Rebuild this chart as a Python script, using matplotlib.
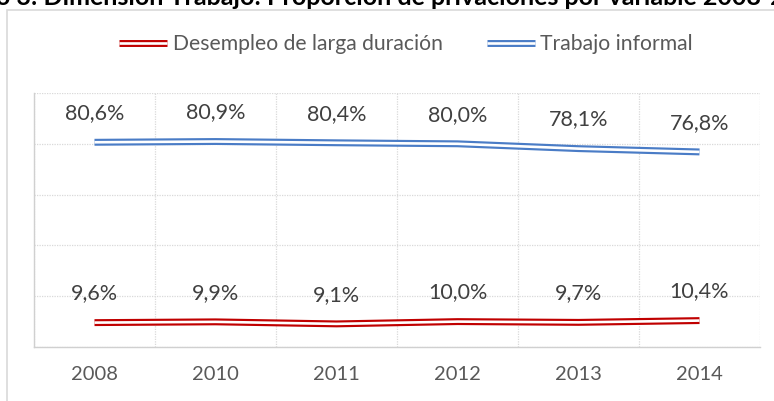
import matplotlib
matplotlib.use("Agg")
import matplotlib.pyplot as plt
from matplotlib.lines import Line2D
from matplotlib.legend_handler import HandlerTuple
from matplotlib.patches import Rectangle

years = ["2008", "2010", "2011", "2012", "2013", "2014"]
desempleo = [9.6, 9.9, 9.1, 10.0, 9.7, 10.4]
informal = [80.6, 80.9, 80.4, 80.0, 78.1, 76.8]
series_names = ["Desempleo de larga duración", "Trabajo informal"]
title = "Gráfico 3: Dimensión Trabajo: Proporción de privaciones por variable 2008-2014"

plt.rcParams['font.family'] = ['Lato', 'DejaVu Sans']
RED = '#C00000'
BLUE = '#4a7cc6'
GRAY = '#595959'

W, H = 774, 401
fig = plt.figure(figsize=(W / 100, H / 100), dpi=100)

# chart frame
fig.patches.append(Rectangle((7 / W, -0.1), 1.2, (H - 10) / H + 0.1, transform=fig.transFigure,
                             fill=False, edgecolor='#d9d9d9', lw=1.2, zorder=0))

ax = fig.add_axes([34 / W, (H - 347) / H, 726 / W, 254 / H])
x = list(range(len(years)))

for vals, col in [(desempleo, RED), (informal, BLUE)]:
    ax.plot(x, vals, color=col, lw=5.0, solid_capstyle='butt', zorder=3)
    ax.plot(x, vals, color='white', lw=1.9, solid_capstyle='butt', zorder=4)
    for xi, v in zip(x, vals):
        ax.annotate(f"{v:.1f}%".replace('.', ','), (xi, v), xytext=(0, 21),
                    textcoords='offset points', ha='center', va='center',
                    fontsize=15.5, color='#404040')

ax.set_xlim(-0.5, len(years) - 0.5)
ax.set_ylim(0, 100)
ax.set_yticks([0, 20, 40, 60, 80, 100])
ax.set_yticklabels([])
ax.tick_params(axis='y', length=0)
ax.set_xticks(x)
ax.set_xticklabels(years, fontsize=14.5, color=GRAY)
ax.set_xticks([i - 0.5 for i in range(len(years) + 1)], minor=True)
ax.tick_params(axis='x', which='both', length=0, pad=14)
ax.grid(axis='y', which='major', color='#d9d9d9', ls=(0, (1, 1)), lw=0.9)
ax.grid(axis='x', which='minor', color='#d9d9d9', ls=(0, (1, 1)), lw=0.9)
ax.grid(axis='x', which='major', visible=False)
for s in ['top', 'right']:
    ax.spines[s].set_visible(False)
for s in ['left', 'bottom']:
    ax.spines[s].set_color('#d0d0d0')
    ax.spines[s].set_linewidth(1.0)

handles = []
for col in [RED, BLUE]:
    h1 = Line2D([], [], color=col, lw=5.0, solid_capstyle='butt')
    h2 = Line2D([], [], color='white', lw=1.9, solid_capstyle='butt')
    handles.append((h1, h2))
leg = fig.legend(handles, series_names, handler_map={tuple: HandlerTuple(ndivide=1, pad=0)},
                 loc='center', bbox_to_anchor=(406 / W, 1 - 44 / H), ncol=2, frameon=False,
                 fontsize=15.2, handlelength=2.3, handletextpad=0.24, columnspacing=2.1,
                 labelcolor=GRAY, borderpad=0, borderaxespad=0)

fig.text(-72 / W, 1 - 5 / H, title, fontsize=18, fontweight='bold', color='black',
         ha='left', va='baseline')

fig.savefig("out.png", dpi=100)
